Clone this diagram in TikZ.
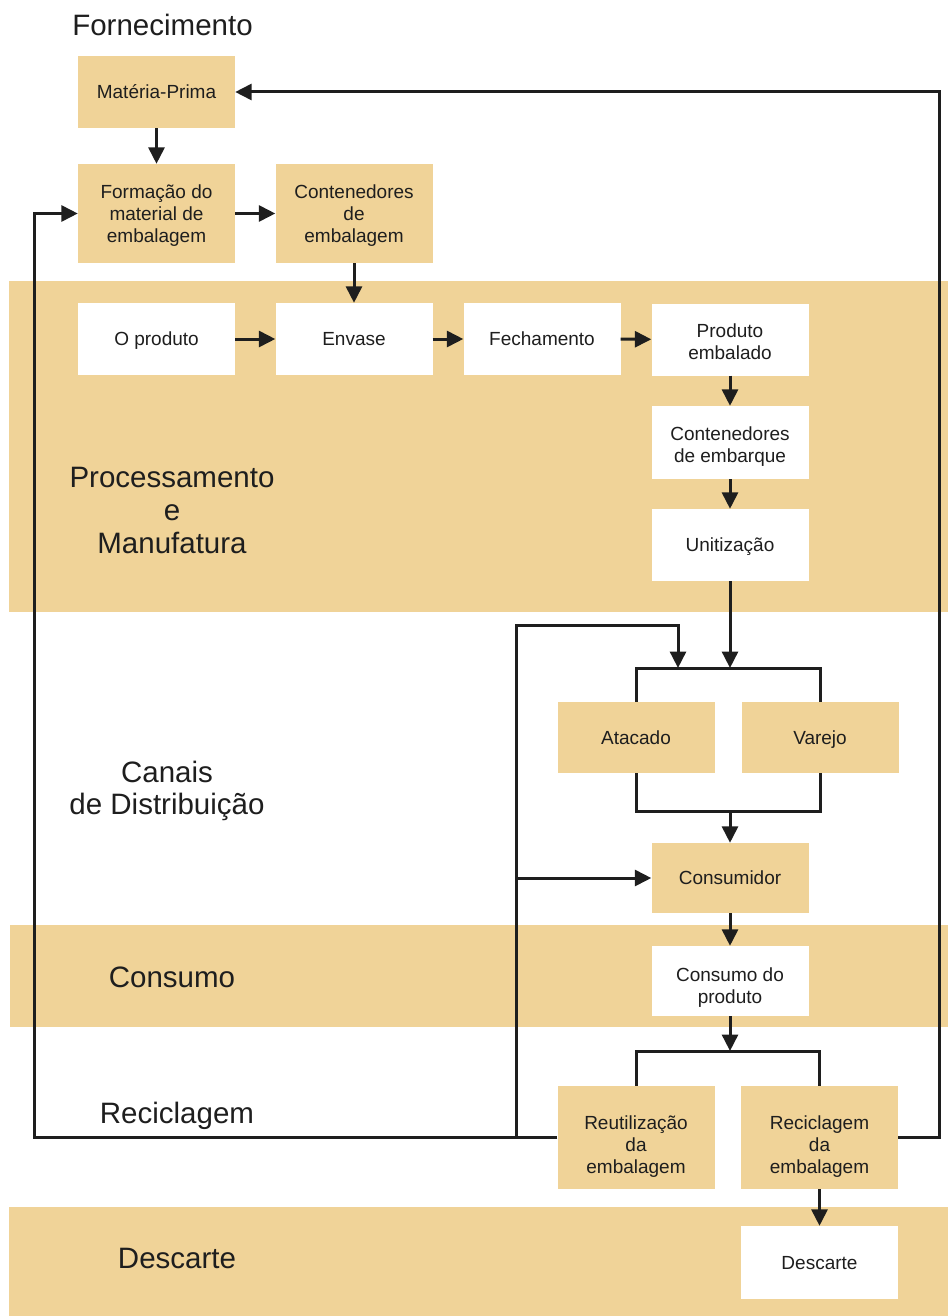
\documentclass[tikz,border=0pt]{standalone}
\usepackage{fontspec}
\setmainfont{Liberation Sans}
\usetikzlibrary{arrows.meta}
\definecolor{tan}{RGB}{240,211,152}
\definecolor{ink}{RGB}{30,30,30}
% centred stack of lines, lowered inside its box by #1
\newcommand\lowstack[2]{\raisebox{-#1}[\height][\depth]{\begin{tabular}{@{}c@{}}#2\end{tabular}}}

\begin{document}
\begin{tikzpicture}[x=1pt,y=-1pt,
  box/.style={minimum width=157pt, inner sep=0pt, align=center,
    font=\fontsize{19}{22}\selectfont, text=ink},
  tanfill/.style={box, fill=tan},
  whitefill/.style={box, fill=white},
  tanbox/.style={tanfill, text depth=0pt},
  whitebox/.style={whitefill, text depth=0pt},
  stage/.style={font=\fontsize{29.5}{33}\selectfont, text=ink, anchor=base, inner sep=0pt},
  link/.style={draw=ink, line width=3pt},
  arr/.style={link, -{Triangle[length=16.5pt,width=16pt]}},
]
\useasboundingbox (0,0) rectangle (948,1316);

% stage bands
\fill[tan] (9,281) rectangle (948,612);
\fill[tan] (10,925) rectangle (948,1027);
\fill[tan] (9,1207) rectangle (948,1316);

% stage names
\node[stage] (sForn) at (162.5,36) {Fornecimento};
\node[stage] (sProcA) at (172,487) {Processamento};
\node[stage] (sProcB) at (172,520) {e};
\node[stage] (sProcC) at (172,553) {Manufatura};
\node[stage] (sCanA) at (167,782) {Canais};
\node[stage] (sCanB) at (167,814) {de Distribuição};
\node[stage] (sCons) at (172,987) {Consumo};
\node[stage] (sRec) at (177,1123) {Reciclagem};
\node[stage] (sDesc) at (177,1268) {Descarte};

% process boxes
\node[tanbox, minimum height=72pt] (mp) at (156.5,92) {Matéria-Prima};
\node[tanbox, minimum height=99pt] (form) at (156.5,213.5) {Formação do\\material de\\embalagem};
\node[tanbox, minimum height=99pt] (cont) at (354,213.5) {Contenedores\\de\\embalagem};
\node[whitebox, minimum height=72pt] (prod) at (156.5,339) {O produto};
\node[whitebox, minimum height=72pt] (env) at (354,339) {Envase};
\node[whitebox, minimum height=72pt] (fech) at (542,339) {Fechamento};
\node[whitefill, minimum height=72pt] (pemb) at (730,339.5) {\lowstack{5pt}{Produto\\embalado}};
\node[whitefill, minimum height=73pt] (cemb) at (730,442.5) {\lowstack{5pt}{Contenedores\\de embarque}};
\node[whitebox, minimum height=72pt] (unit) at (730,545) {Unitização};
\node[tanbox, minimum height=71pt] (atac) at (636,737.5) {Atacado};
\node[tanbox, minimum height=71pt] (var) at (820,737.5) {Varejo};
\node[tanbox, minimum height=70pt] (consr) at (730,878) {Consumidor};
\node[whitefill, minimum height=70pt] (cprod) at (730,981) {\lowstack{7pt}{Consumo do\\produto}};
\node[tanfill, minimum height=103pt] (reut) at (636,1137.5) {\lowstack{10pt}{Reutilização\\da\\embalagem}};
\node[tanfill, minimum height=103pt] (recic) at (819.5,1137.5) {\lowstack{10pt}{Reciclagem\\da\\embalagem}};
\node[whitebox, minimum height=73pt] (desc) at (819.5,1262.5) {Descarte};

% junction and routing points
\coordinate (jtop) at (730,668);
\coordinate (jbot) at (730,811);
\coordinate (jrec) at (730,1051);
\coordinate (fbk) at (678,625);
\coordinate (lx) at (34,0);
\coordinate (jx) at (516,0);
\coordinate (rx) at (939,0);

% supply and manufacturing chain
\draw[arr] (mp) -- (form);
\draw[arr] (form) -- (cont);
\draw[arr] (cont) -- (env);
\draw[arr] (prod) -- (env);
\draw[arr] (env) -- (fech);
\draw[arr] (fech) -- (pemb);
\draw[arr] (pemb) -- (cemb);
\draw[arr] (cemb) -- (unit);

% distribution
\draw[arr] (unit.south) -- (jtop);
\draw[link] (atac.north) |- (jtop) -| (var.north);
\draw[link] (atac.south) |- (jbot) -| (var.south);
\draw[arr] (jbot) -- (consr.north);
\draw[arr] (consr) -- (cprod);

% end of life
\draw[arr] (cprod.south) -- (jrec);
\draw[link] (reut.north) |- (jrec) -| (recic.north);
\draw[arr] (recic) -- (desc);

% return loops
\draw[arr] (reut.west) -- (reut.west -| lx) |- (form.west);
\draw[arr] (reut.west -| jx) |- (consr.west);
\draw[arr] (reut.west -| jx) |- (fbk) -- (fbk |- jtop);
\draw[arr] (recic.east) -- (recic.east -| rx) |- (mp.east);
\end{tikzpicture}
\end{document}
